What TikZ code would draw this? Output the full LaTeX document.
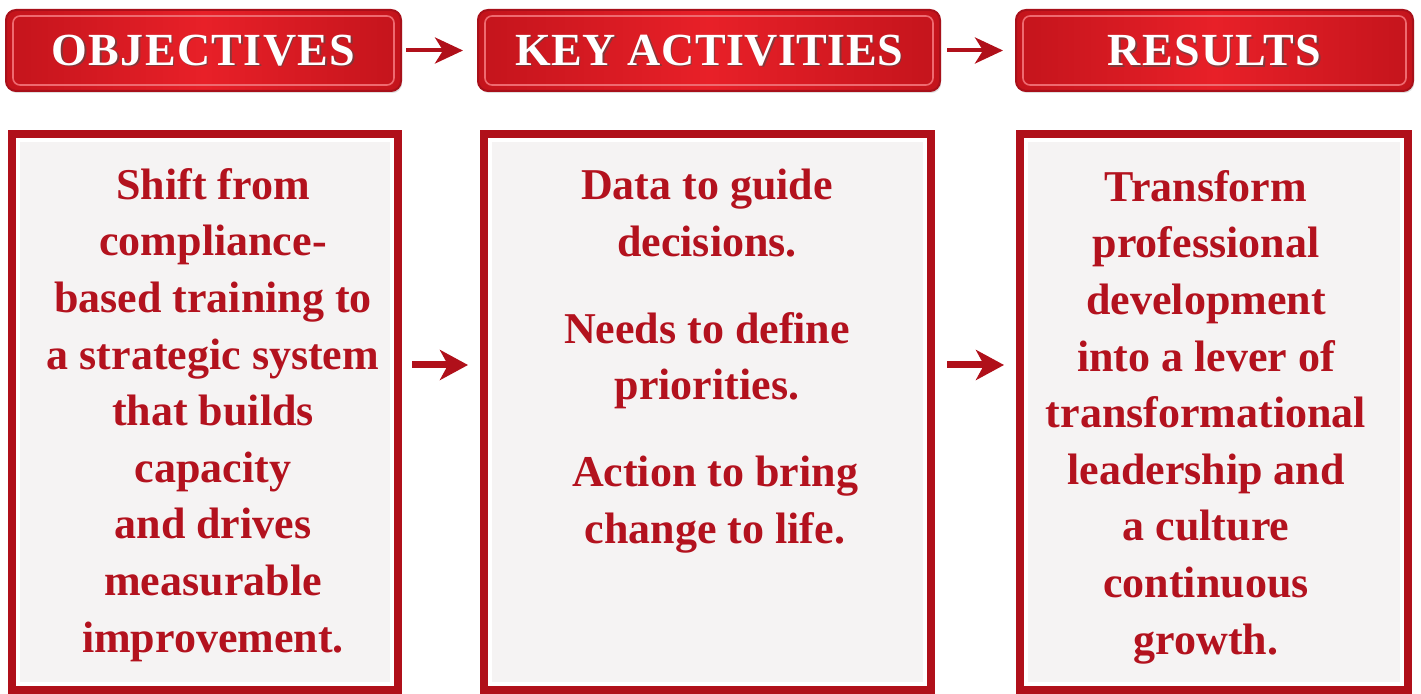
\documentclass[tikz,border=0pt]{standalone}
\usepackage{fontspec}
\setmainfont{Liberation Serif}
\newfontfamily\hdrfont[LetterSpace=3]{Liberation Serif}
\usetikzlibrary{arrows.meta,shadows}
\definecolor{darkred}{HTML}{B0101A}
\definecolor{rimred}{HTML}{A8101A}
\definecolor{hdrdark}{HTML}{C4141C}
\definecolor{hdrlight}{HTML}{E82028}
\definecolor{hdrrim}{HTML}{EE6A70}
\definecolor{txtred}{HTML}{B3121E}
\definecolor{panelfill}{HTML}{F5F3F3}
\tikzset{
  hdr/.style={rounded corners=5pt, draw=rimred, line width=1pt,
    left color=hdrdark, right color=hdrdark, middle color=hdrlight,
    inner sep=0pt, drop shadow={shadow xshift=0.6pt, shadow yshift=-1pt, opacity=0.25}},
  hdrrimline/.style={rounded corners=3.5pt, draw=hdrrim, line width=0.8pt},
  hdrtext/.style={text=white, font=\hdrfont\fontsize{23}{26}\selectfont\bfseries},
  hdrshadow/.style={text=black!70, opacity=0.6, font=\hdrfont\fontsize{23}{26}\selectfont\bfseries},
  panel/.style={draw=darkred, line width=4pt, fill=white, inner sep=0pt},
  panelin/.style={fill=panelfill},
  body/.style={text=txtred, align=center, inner sep=0pt,
    font=\fontsize{22}{28.3}\selectfont\bfseries},
  toparr/.style={draw=darkred, line width=2pt, -{Stealth[length=14pt,width=13pt,inset=4pt]}},
  midarr/.style={draw=darkred, line width=3.5pt, -{Stealth[length=14pt,width=15pt,inset=4pt]}},
}
\newcommand{\keyact}{\addfontfeature{LetterSpace=1}KEY ACTIVITIES}
\begin{document}
\begin{tikzpicture}[x=0.5pt,y=-0.5pt]
\useasboundingbox (0,0) rectangle (1421,694);
\fill[white] (0,0) rectangle (1421,694);
% headers
\node[hdr, minimum width=197.5pt, minimum height=40.5pt] (h1) at (203.5,50.5) {};
\node[hdr, minimum width=231pt, minimum height=40.5pt] (h2) at (709,50.5) {};
\node[hdr, minimum width=198.5pt, minimum height=40.5pt] (h3) at (1214.5,50.5) {};
\foreach \h in {h1,h2,h3}{
  \draw[hdrrimline] ([shift={(4pt,-3.5pt)}]\h.north west) rectangle ([shift={(-4pt,3.5pt)}]\h.south east);
}
\node[hdrshadow] at ([shift={(0.8pt,-0.8pt)}]h1.center) {OBJECTIVES};
\node[hdrtext] (t1) at (h1.center) {OBJECTIVES};
\node[hdrshadow] at ([shift={(0.8pt,-0.8pt)}]h2.center) {\keyact};
\node[hdrtext] (t2) at (h2.center) {\keyact};
\node[hdrshadow] at ([shift={(0.8pt,-0.8pt)}]h3.center) {RESULTS};
\node[hdrtext] (t3) at (h3.center) {RESULTS};
\draw[toparr, shorten <=2pt, shorten >=7pt] (h1.east) -- (h2.west);
\draw[toparr, shorten <=3pt, shorten >=6pt] (h2.east) -- (h3.west);
% panels
\node[panel, minimum width=193pt, minimum height=278pt] (b1) at (205,412) {};
\node[panel, minimum width=223.5pt, minimum height=278pt] (b2) at (707.5,412) {};
\node[panel, minimum width=194pt, minimum height=278pt] (b3) at (1214,412) {};
\foreach \b in {b1,b2,b3}{
  \fill[panelin] ([shift={(6pt,-6pt)}]\b.north west) rectangle ([shift={(-6pt,6pt)}]\b.south east);
}
% texts
\node[body, anchor=north] (x1) at (213,168) {Shift from\\compliance-\\based training to\\a strategic system\\that builds\\capacity\\and drives\\measurable\\improvement.};
\node[body, anchor=north] (x2a) at (707,169) {Data to guide\\decisions.};
\node[body, anchor=north] (x2b) at (707,312) {Needs to define\\priorities.};
\node[body, anchor=north] (x2c) at (715,456) {Action to bring\\change to life.};
\node[body, anchor=north] (x3) at (1206,170) {Transform\\professional\\development\\into a lever of\\transformational\\leadership and\\a culture\\continuous\\growth.};
% middle arrows
\coordinate (ay) at (0,365);
\draw[midarr, shorten <=5pt, shorten >=6pt] (b1.east |- ay) -- (b2.west |- ay);
\draw[midarr, shorten <=6pt, shorten >=6pt] (b2.east |- ay) -- (b3.west |- ay);
\end{tikzpicture}
\end{document}
